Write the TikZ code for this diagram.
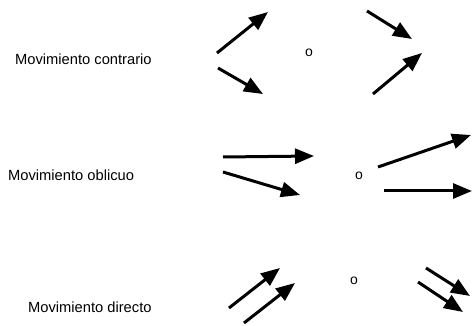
\documentclass[tikz,border=0pt]{standalone}
\usepackage{fontspec}
\setmainfont{Liberation Sans}
\usetikzlibrary{arrows.meta}

\tikzset{
  mov/.style={line width=3pt, -{Triangle[length=19pt,width=15pt]}},
  label/.style={anchor=west, inner sep=0pt, font=\fontsize{14.7}{17}\selectfont},
  sep/.style={inner sep=0pt, font=\fontsize{14}{16}\selectfont}
}

\begin{document}
\begin{tikzpicture}[x=1pt,y=1pt,yscale=-1]
  \useasboundingbox (0,0) rectangle (472,326);

  % labels
  \node[label] (contrario) at (15,59) {Movimiento contrario};
  \node[label] (oblicuo) at (8,175) {Movimiento oblicuo};
  \node[label] (directo) at (28,307) {Movimiento directo};

  % the word between both pairs
  \node[sep] (o1) at (309,53) {o};
  \node[sep] (o2) at (359,176) {o};
  \node[sep] (o3) at (354,281) {o};

  % contrario
  \coordinate (c1a) at (217,53);  \coordinate (c1b) at (268,12);
  \coordinate (c2a) at (218,68);  \coordinate (c2b) at (263,94);
  \coordinate (c3a) at (367,11);  \coordinate (c3b) at (412,39);
  \coordinate (c4a) at (373,94);  \coordinate (c4b) at (422,53);
  % oblicuo
  \coordinate (b1a) at (223,157); \coordinate (b1b) at (314,156);
  \coordinate (b2a) at (223,172); \coordinate (b2b) at (300,195);
  \coordinate (b3a) at (378,167); \coordinate (b3b) at (471,135);
  \coordinate (b4a) at (384,191); \coordinate (b4b) at (472,191);
  % directo
  \coordinate (d1a) at (229,308); \coordinate (d1b) at (280,268);
  \coordinate (d2a) at (244,323); \coordinate (d2b) at (295,283);
  \coordinate (d3a) at (426,268); \coordinate (d3b) at (470,296);
  \coordinate (d4a) at (418,282); \coordinate (d4b) at (463,312);

  \foreach \r in {c,b,d}
    \foreach \i in {1,...,4}
      \draw[mov] (\r\i a) -- (\r\i b);

\end{tikzpicture}
\end{document}
